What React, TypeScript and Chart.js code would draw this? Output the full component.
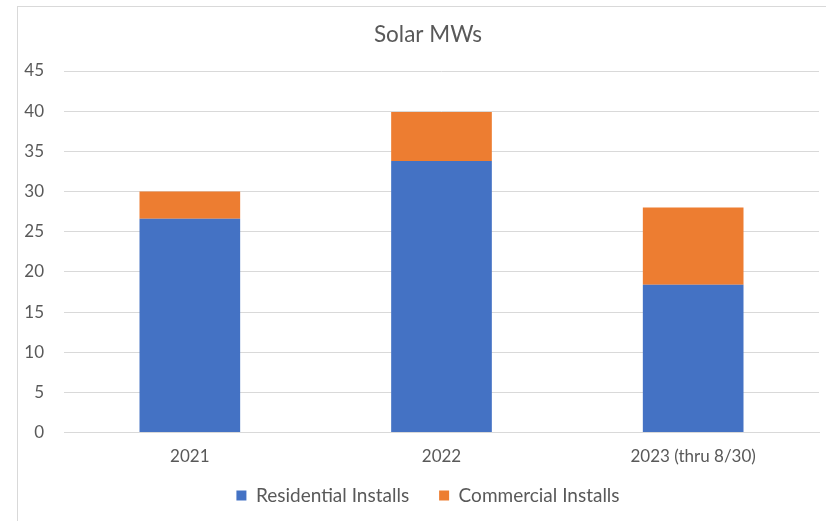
import React, { useEffect, useRef } from "react";
import { Chart, registerables } from "chart.js";

Chart.register(...registerables);

const categories = ["2021", "2022", "2023 (thru 8/30)"];
const residential = [26.6, 33.8, 18.4];
const commercial = [3.4, 6.1, 9.6];
const yTicks = [0, 5, 10, 15, 20, 25, 30, 35, 40, 45];

const FONT = "Lato, 'Open Sans', sans-serif";
const TEXT = "#595959";
const LEGEND_SHIFT = 25;
const CENTER_SHIFT = 10;

const legendShift = {
  id: "legendShift",
  beforeLayout(chart: any) {
    const lg = chart.legend;
    if (lg && !lg.__patched) {
      const orig = lg.fit;
      lg.fit = function (this: any) {
        orig.call(this);
        this.height = this.height - LEGEND_SHIFT;
      };
      lg.__patched = true;
    }
  },
  afterLayout(chart: any) {
    const lg = chart.legend;
    if (lg) {
      lg.top -= LEGEND_SHIFT;
      lg.height += LEGEND_SHIFT;
      lg.left += CENTER_SHIFT;
      lg.right += CENTER_SHIFT;
    }
    const tt = chart.titleBlock;
    if (tt) {
      tt.left += CENTER_SHIFT;
      tt.right += CENTER_SHIFT;
    }
  },
};

export default function App() {
  const ref = useRef<HTMLCanvasElement | null>(null);
  useEffect(() => {
    document.body.style.margin = "0";
    const chart = new Chart(ref.current as HTMLCanvasElement, {
      type: "bar",
      data: {
        labels: categories,
        datasets: [
          { label: "Residential Installs", data: residential, backgroundColor: "#4472C4", categoryPercentage: 1, barPercentage: 0.4 },
          { label: "Commercial Installs", data: commercial, backgroundColor: "#ED7D31", categoryPercentage: 1, barPercentage: 0.4 },
        ],
      },
      plugins: [legendShift],
      options: {
        responsive: false,
        animation: false,
        layout: { padding: { left: 17, right: 7, top: 0, bottom: 6 } },
        plugins: {
          title: {
            display: true,
            text: "Solar MWs",
            color: TEXT,
            font: { family: FONT, size: 22.5, weight: "normal" },
            padding: { top: 21, bottom: 23 },
          },
          legend: {
            position: "bottom",
            labels: {
              color: TEXT,
              font: { family: FONT, size: 19 },
              boxWidth: 10,
              boxHeight: 10,
              padding: 30,
            },
          },
          tooltip: { enabled: false },
        },
        scales: {
          x: {
            stacked: true,
            grid: { display: false, drawTicks: false },
            border: { display: true, color: "#D9D9D9" },
            ticks: { color: TEXT, font: { family: FONT, size: 17 }, padding: 14 },
          },
          y: {
            stacked: true,
            min: 0,
            max: 45,
            afterBuildTicks: (s: any) => { s.ticks = yTicks.map((v) => ({ value: v })); },
            afterFit: (s: any) => { s.width = 47; },
            grid: { color: "#D9D9D9", drawTicks: false },
            border: { display: false },
            ticks: { color: TEXT, font: { family: FONT, size: 17 }, padding: 20, stepSize: 5 },
          },
        },
      },
    });
    return () => chart.destroy();
  }, []);
  return (
    <div style={{ position: "relative", width: 826, height: 521 }}>
      <canvas ref={ref} width={826} height={521} style={{ position: "absolute", left: 0, top: 0 }} />
      <div style={{ position: "absolute", left: 17, top: 6, width: 830, height: 530, borderLeft: "1px solid #D9D9D9", borderTop: "1px solid #D9D9D9", pointerEvents: "none" }} />
    </div>
  );
}
